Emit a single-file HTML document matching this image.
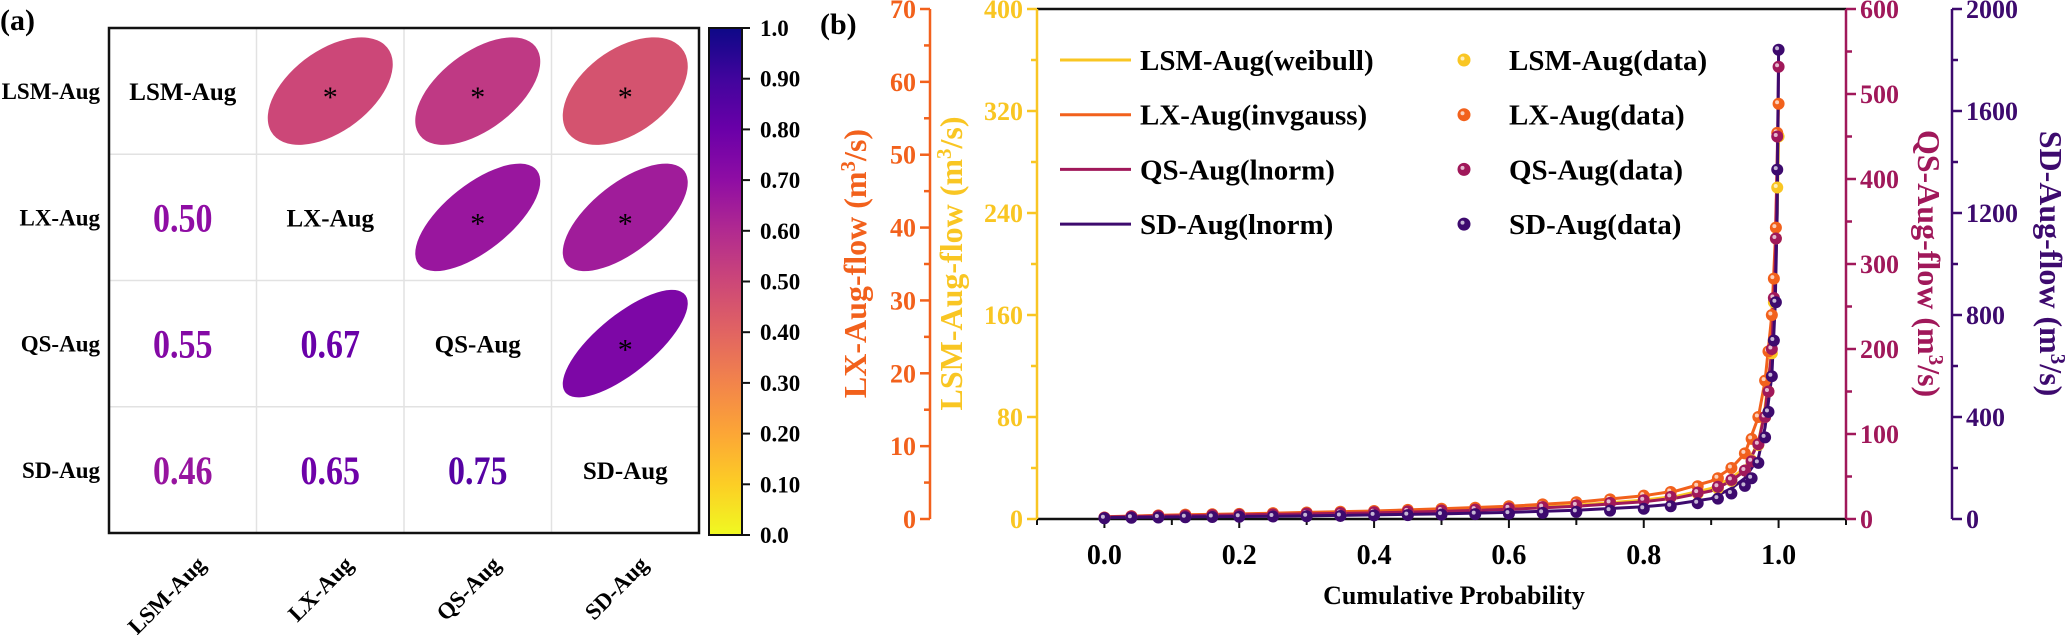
<!DOCTYPE html>
<html><head><meta charset="utf-8"><style>
body{margin:0;background:#fff;overflow:hidden}
svg{display:block;font-family:"Liberation Serif",serif;font-weight:bold}
</style></head><body>
<svg id="fig" width="2067" height="635" viewBox="0 0 2067 635" xmlns="http://www.w3.org/2000/svg">
<defs>
<linearGradient id="cbgrad" x1="0" y1="1" x2="0" y2="0">
<stop offset="0" stop-color="#f0f921"/><stop offset="0.1" stop-color="#fcce25"/><stop offset="0.2" stop-color="#fca636"/><stop offset="0.3" stop-color="#f2844b"/><stop offset="0.4" stop-color="#e16462"/><stop offset="0.5" stop-color="#cc4778"/><stop offset="0.6" stop-color="#b12a90"/><stop offset="0.7" stop-color="#8f0da4"/><stop offset="0.8" stop-color="#6a00a8"/><stop offset="0.9" stop-color="#41049d"/><stop offset="1" stop-color="#0d0887"/>
</linearGradient>
</defs>
<g id="pa"></g>
<g id="pb"></g>
</svg>
<script>
// ---- Panel (a) data ----
const names = ["LSM-Aug","LX-Aug","QS-Aug","SD-Aug"];
const corrRows = [[1,0.50,0.55,0.46],[0.50,1,0.67,0.65],[0.55,0.67,1,0.75],[0.46,0.65,0.75,1]];
const cbTicks = ["0.0","0.10","0.20","0.30","0.40","0.50","0.60","0.70","0.80","0.90","1.0"];

// ---- Panel (b) data ----
const fitProbs = [0.0,0.1,0.2,0.3,0.4,0.5,0.6,0.7,0.8,0.85,0.9,0.93,0.95,0.97,0.98,0.99,0.995,0.998,1.0];
const fitLSM = [1.6,2.4,3.2,4,4.8,6,8,10.8,14.8,18,24,32,40,60,88,132,180,240,300];
const fitLX = [0.3,0.55,0.7,0.9,1.1,1.4,1.75,2.3,3.2,3.9,5.2,7,9,14,19,28,38,49,57];
const fitQS = [2.4,3.6,4.8,6,7.2,9,11.4,15,20.4,25,33,45,57,90,126,198,300,420,532];
const fitSD = [6,8,10,12,16,20,26,34,48,60,80,120,160,240,360,560,840,1200,1840];
const dataProbs = [0.0,0.04,0.08,0.12,0.16,0.2,0.25,0.3,0.35,0.4,0.45,0.5,0.55,0.6,0.65,0.7,0.75,0.8,0.84,0.88,0.91,0.93,0.95,0.96,0.97,0.98,0.985,0.99,0.993,0.996,0.998,1.0];
const dataLSM = [1,2,2.5,3,3.3,3.6,4,4.5,5,5.5,6,7,7.5,8.5,9.5,11,13,15,17,20,24,30,38,46,58,80,100,130,170,220,260,300];
const dataLX = [0.2,0.4,0.5,0.6,0.65,0.7,0.8,0.9,1.0,1.1,1.25,1.4,1.55,1.75,2.0,2.3,2.7,3.2,3.7,4.5,5.6,7,9,11,14,19,23,28,33,40,53,57];
const dataQS = [1.5,3,3.5,4,4.5,5,5.5,6.5,7,8,9,10,11,12.5,14,16,19,22,26,31,38,46,57,68,88,120,150,200,260,330,450,532];
const dataSD = [3,5,6,7,8,9,10,11,12,14,15,17,19,21,24,28,33,40,50,62,80,100,130,160,220,320,420,560,700,850,1370,1840];
const xTicks = [0.0,0.2,0.4,0.6,0.8,1.0];
const lxTicks = [0,10,20,30,40,50,60,70];
const lsmTicks = [0,80,160,240,320,400];
const qsTicks = [0,100,200,300,400,500,600];
const sdTicks = [0,400,800,1200,1600,2000];

const NS="http://www.w3.org/2000/svg";
function mk(tag,attrs,parent,text){const e=document.createElementNS(NS,tag);for(const k in attrs)e.setAttribute(k,attrs[k]);if(text!==undefined)e.textContent=text;parent.appendChild(e);return e;}
const plasma=["#0d0887","#41049d","#6a00a8","#8f0da4","#b12a90","#cc4778","#e16462","#f2844b","#fca636","#fcce25","#f0f921"];
function hex(c){return [1,3,5].map(i=>parseInt(c.substr(i,2),16));}
function pl(t){t=Math.max(0,Math.min(1,t));const f=t*10,i=Math.min(9,Math.floor(f)),u=f-i;const a=hex(plasma[i]),b=hex(plasma[i+1]);return "rgb("+a.map((v,k)=>Math.round(v+(b[k]-v)*u)).join(",")+")";}

// ---- Panel (a) ----
const pa=document.getElementById('pa');
const ax0=109,ay0=28,cw=147.5,ch=126.25;
let t=mk('text',{x:0,y:30,'font-size':30},pa,"(a)");


for(let k=1;k<4;k++){
  let l=mk('line',{x1:ax0+k*cw,y1:ay0,x2:ax0+k*cw,y2:ay0+4*ch,stroke:'#e2e2e2','stroke-width':1.5},pa);
  
  
  let l2=mk('line',{x1:ax0,y1:ay0+k*ch,x2:ax0+4*cw,y2:ay0+k*ch,stroke:'#e2e2e2','stroke-width':1.5},pa);
  
  
}
for(let i=0;i<4;i++){
  const cy=ay0+ch*(i+0.5);
  let rl=mk('text',{x:100,y:cy+8,'font-size':23,'text-anchor':'end'},pa,names[i]);
  
  
  const cx=ax0+cw*(i+0.5);
  let cl=mk('text',{x:0,y:0,'font-size':23,'text-anchor':'end',transform:`translate(${cx+24},${566}) rotate(-45)`},pa,names[i]);
  
  
  for(let j=0;j<4;j++){
    const x=ax0+cw*(j+0.5),r=corrRows[i][j];
    if(i===j){
      let d=mk('text',{x:x,y:cy+9,'font-size':25,'text-anchor':'middle'},pa,names[i]);
      
      
    } else if(i>j){
      let v=mk('text',{x:0,y:0,'font-size':40,'text-anchor':'middle',fill:pl(0.6-0.6*r),transform:`translate(${x},${cy+14}) scale(0.85,1)`},pa,r.toFixed(2));
      
      
    } else {
      const k=62.5,a=k*Math.sqrt(1+r),b=k*Math.sqrt(1-r);
      let e=mk('ellipse',{cx:0,cy:0,rx:a,ry:b,fill:pl(1-r),transform:`translate(${x},${cy}) scale(1,0.86) rotate(-45)`},pa);
      
      
      let s=mk('text',{x:x,y:cy+16,'font-size':30,'text-anchor':'middle','font-weight':'normal'},pa,"*");
      
      
    }
  }
}
let fr=mk('rect',{x:ax0,y:ay0,width:4*cw,height:4*ch,fill:'none',stroke:'#111','stroke-width':2.5},pa);


// colorbar
const cbx=709,cbw=33,cbTop=28,cbBot=535;
let cb=mk('rect',{x:cbx,y:cbTop,width:cbw,height:cbBot-cbTop,fill:'url(#cbgrad)',stroke:'#111','stroke-width':2},pa);


cbTicks.forEach((lab,i)=>{
  const y=cbBot-(i/10)*(cbBot-cbTop);
  mk('line',{x1:cbx+cbw,y1:y,x2:cbx+cbw+8,y2:y,stroke:'#111','stroke-width':2},pa);
  let tl=mk('text',{x:760,y:y+8,'font-size':23},pa,lab);
  
  
});

// ---- Panel (b) ----
const pb=document.getElementById('pb');
const L=1037,R=1846,T=9,B=519;
const xs=p=>L+(p+0.1)/1.2*(R-L);
const ysc=max=>v=>B-v/max*(B-T);
const yLX=ysc(70),yLSM=ysc(400),yQS=ysc(600),ySD=ysc(2000);
const C={lsm:'#f9c623',lx:'#f2611c',qs:'#a0185a',sd:'#3d0a6e'};
let pbl=mk('text',{x:820,y:34,'font-size':30},pb,"(b)");


mk('line',{x1:L,y1:T,x2:R,y2:T,stroke:'#111','stroke-width':2.5},pb);
mk('line',{x1:L,y1:B,x2:R,y2:B,stroke:'#111','stroke-width':2.5},pb);
for(let p=-0.1;p<=1.101;p+=0.1){const x=xs(p);mk('line',{x1:x,y1:B,x2:x,y2:B+(Math.abs(Math.round(p*10)%2)===0?9:6),stroke:'#111','stroke-width':2},pb);}
xTicks.forEach(v=>{let tl=mk('text',{x:xs(v),y:564,'font-size':28,'text-anchor':'middle'},pb,v.toFixed(1));

});
let xt=mk('text',{x:1454,y:604,'font-size':26,'text-anchor':'middle'},pb,"Cumulative Probability");


function yaxis(x,ticks,max,col,side,titleX,title,name){
  const ys=ysc(max);
  mk('line',{x1:x,y1:T,x2:x,y2:B,stroke:col,'stroke-width':2.5},pb);
  const step=ticks[1]-ticks[0];
  for(let v=0;v<=max+1e-9;v+=step/2){const y=ys(v);const major=Math.abs((v/step)-Math.round(v/step))<1e-6;mk('line',{x1:x,y1:y,x2:x+side*(major?10:6),y2:y,stroke:col,'stroke-width':2.5},pb);}
  ticks.forEach(v=>{let tl=mk('text',{x:x+side*14,y:ys(v)+9,'font-size':26,fill:col,'text-anchor':side<0?'end':'start'},pb,String(v));
  
  });
  let tt=mk('text',{x:0,y:0,'font-size':32,fill:col,'text-anchor':'middle',transform:`translate(${titleX},${B/2+4}) rotate(${side<0?-90:90})`},pb);
  
  
  mk('tspan',{},tt,title+" (m");mk('tspan',{dy:-11,'font-size':21},tt,"3");mk('tspan',{dy:11},tt,"/s)");
}
yaxis(930,lxTicks,70,C.lx,-1,866,"LX-Aug-flow","lx");
yaxis(1037,lsmTicks,400,C.lsm,-1,962,"LSM-Aug-flow","lsm");
yaxis(1846,qsTicks,600,C.qs,1,1918,"QS-Aug-flow","qs");
yaxis(1952,sdTicks,2000,C.sd,1,2040,"SD-Aug-flow","sd");
function line(vals,ys,col,name){const d=fitProbs.map((p,i)=>(i?'L':'M')+xs(p).toFixed(1)+','+ys(vals[i]).toFixed(1)).join(' ');
let pth=mk('path',{d:d,fill:'none',stroke:col,'stroke-width':3},pb);

}
function dots(vals,ys,col,name){dataProbs.forEach((p,i)=>{const x=xs(p),y=ys(vals[i]);
let c=mk('circle',{cx:x,cy:y,r:6,fill:col},pb);


mk('circle',{cx:x-1.5,cy:y-1.5,r:2,fill:'#fff','fill-opacity':0.7},pb);});}
line(fitLSM,yLSM,C.lsm,'lsm-fit-line');line(fitLX,yLX,C.lx,'lx-fit-line');line(fitQS,yQS,C.qs,'qs-fit-line');line(fitSD,ySD,C.sd,'sd-fit-line');
dots(dataLSM,yLSM,C.lsm,'lsm-data-point');dots(dataLX,yLX,C.lx,'lx-data-point');dots(dataQS,yQS,C.qs,'qs-data-point');dots(dataSD,ySD,C.sd,'sd-data-point');
const leg=[["LSM-Aug(weibull)","LSM-Aug(data)",C.lsm],["LX-Aug(invgauss)","LX-Aug(data)",C.lx],["QS-Aug(lnorm)","QS-Aug(data)",C.qs],["SD-Aug(lnorm)","SD-Aug(data)",C.sd]];
leg.forEach((r,i)=>{const y=60+i*54.7;
  let ln=mk('line',{x1:1060,y1:y,x2:1131,y2:y,stroke:r[2],'stroke-width':3},pb);
  
  
  let tx=mk('text',{x:1140,y:y+10,'font-size':29},pb,r[0]);
  
  
  let c=mk('circle',{cx:1464,cy:y,r:6.5,fill:r[2]},pb);
  
  
  mk('circle',{cx:1462.5,cy:y-1.5,r:2,fill:'#fff','fill-opacity':0.7},pb);
  let tx2=mk('text',{x:1509,y:y+10,'font-size':29},pb,r[1]);
  
  
});
</script>
</body></html>
